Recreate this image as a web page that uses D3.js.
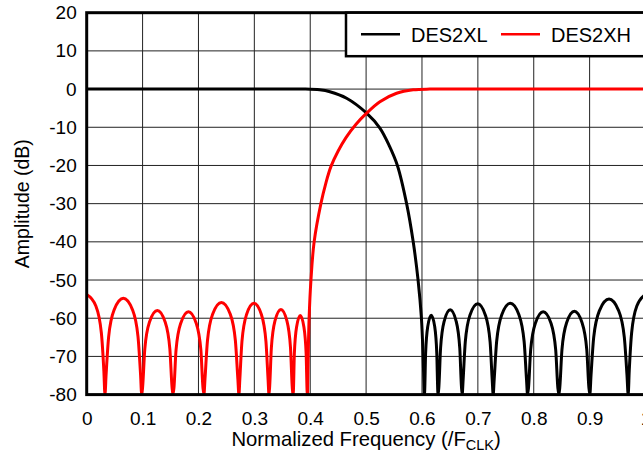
<!DOCTYPE html>
<html>
<head>
<meta charset="utf-8">
<script src="https://cdn.jsdelivr.net/npm/d3@7"></script>
<style>
  body { margin: 0; background: #fff; }
  svg { display: block; font-family: Arial, "Liberation Sans", sans-serif; }
</style>
</head>
<body>
<svg id="chart" width="643" height="454"></svg>
<script>
// values, [normalized frequency, amplitude dB]
const xTicks = [0, 0.1, 0.2, 0.3, 0.4, 0.5, 0.6, 0.7, 0.8, 0.9, 1];
const yTicks = [20, 10, 0, -10, -20, -30, -40, -50, -60, -70, -80];
const seriesNames = ["DES2XL", "DES2XH"];
const seriesColors = ["#000000", "#ff0000"];

// DES2XL (low pass): flat passband, roll off, then stopband lobes
const lowPass = [
  [0, 0], [0.2, 0], [0.37, 0], [0.39, 0], [0.4168, -0.2], [0.4352, -0.7], [0.4651, -2.4],
  [0.5009, -6.3], [0.5247, -10.2], [0.542, -15], [0.556, -20],
  [0.5725, -30], [0.5843, -40], [0.593, -50], [0.599, -60], [0.602, -70], [0.604, -80]
];
const lowStop = [
  [0.604, -80], [0.6048, -79.2], [0.6065, -69.2], [0.6103, -62.2], [0.6165, -59.2], [0.6228, -62.2], [0.6265, -69.2], [0.6283, -79.2], [0.629, -80],
  [0.6303, -77.8], [0.6333, -67.8], [0.6397, -60.8], [0.6505, -57.8], [0.6612, -60.8], [0.6676, -67.8], [0.6706, -77.8], [0.6719, -80],
  [0.6736, -76.2], [0.6775, -66.2], [0.6858, -59.2], [0.6997, -56.2], [0.7135, -59.2], [0.7219, -66.2], [0.7257, -76.2], [0.7274, -80],
  [0.7292, -76.1], [0.7336, -66.1], [0.7428, -59.1], [0.7582, -56.1], [0.7735, -59.1], [0.7828, -66.1], [0.7871, -76.1], [0.7889, -80],
  [0.7906, -78.3], [0.7945, -68.3], [0.8029, -61.3], [0.8169, -58.3], [0.8309, -61.3], [0.8393, -68.3], [0.8432, -78.3], [0.8449, -80],
  [0.8466, -78.2], [0.8505, -68.2], [0.8588, -61.2], [0.8727, -58.2], [0.8865, -61.2], [0.8949, -68.2], [0.8987, -78.2], [0.9004, -80],
  [0.9025, -75], [0.9073, -65], [0.9176, -58], [0.9347, -55], [0.9519, -58], [0.9621, -65], [0.9669, -75], [0.969, -80],
  [0.9709, -73.8], [0.9752, -63.8], [0.9845, -56.8], [1.0, -53.8]
];

// DES2XH (high pass): stopband lobes, steep rise near 0.4, flat passband
const highStop = [
  [0, -53.8], [0.0164, -56.8], [0.0262, -63.8], [0.0307, -73.8], [0.0327, -80],
  [0.0347, -74.8], [0.0393, -64.8], [0.0491, -57.8], [0.0656, -54.8], [0.082, -57.8], [0.0918, -64.8], [0.0964, -74.8], [0.0984, -80],
  [0.1001, -78], [0.104, -68], [0.1124, -61], [0.1264, -58], [0.1404, -61], [0.1488, -68], [0.1527, -78], [0.1544, -80],
  [0.1561, -78.3], [0.1599, -68.3], [0.1683, -61.3], [0.1821, -58.3], [0.196, -61.3], [0.2043, -68.3], [0.2081, -78.3], [0.2098, -80],
  [0.2117, -75.9], [0.2161, -65.9], [0.2255, -58.9], [0.2411, -55.9], [0.2568, -58.9], [0.2661, -65.9], [0.2705, -75.9], [0.2724, -80],
  [0.274, -76.1], [0.2778, -66.1], [0.2859, -59.1], [0.2993, -56.1], [0.3128, -59.1], [0.3208, -66.1], [0.3246, -76.1], [0.3262, -80],
  [0.3275, -77.7], [0.3305, -67.7], [0.3369, -60.7], [0.3476, -57.7], [0.3583, -60.7], [0.3647, -67.7], [0.3677, -77.7], [0.369, -80],
  [0.3698, -79.3], [0.3716, -69.3], [0.3756, -62.3], [0.3822, -59.3], [0.3887, -62.3], [0.3927, -69.3], [0.3945, -79.3], [0.3953, -80]
];
const highPass = [
  [0.3953, -80], [0.3964, -70], [0.398, -60], [0.4013, -50], [0.407, -40],
  [0.4191, -30], [0.428, -24.6], [0.437, -20.3], [0.45, -16.2], [0.464, -12.7],
  [0.482, -9.2], [0.5009, -6.3], [0.5247, -3.3], [0.5546, -1.1], [0.5843, -0.2],
  [0.614, 0], [0.64, 0], [0.8, 0], [1.0, 0]
];

const svg = d3.select("#chart");
const margin = { top: 12.7, left: 86.7 };
const plotW = 558.8;
const plotH = 381.9;

const x = d3.scaleLinear().domain([0, 1]).range([0, plotW]);
const y = d3.scaleLinear().domain([-80, 20]).range([plotH, 0]);

const g = svg.append("g").attr("transform", `translate(${margin.left},${margin.top})`);

svg.append("defs").append("clipPath").attr("id", "plotClip")
  .append("rect").attr("width", plotW).attr("height", plotH);

// grid
g.append("g").selectAll("line.v")
  .data(xTicks.slice(1, -1))
  .join("line")
  .attr("x1", d => x(d)).attr("x2", d => x(d))
  .attr("y1", 0).attr("y2", plotH)
  .attr("stroke", "#222").attr("stroke-width", 1);

g.append("g").selectAll("line.h")
  .data(yTicks.slice(1, -1))
  .join("line")
  .attr("x1", 0).attr("x2", plotW)
  .attr("y1", d => y(d)).attr("y2", d => y(d))
  .attr("stroke", "#222").attr("stroke-width", 1);

// curves: lobes with monotone, roll-off bands with catmull-rom
const lobeLine = d3.line()
  .x(d => x(d[0]))
  .y(d => y(d[1]))
  .curve(d3.curveMonotoneX);
const bandLine = d3.line()
  .x(d => x(d[0]))
  .y(d => y(d[1]))
  .curve(d3.curveCatmullRom.alpha(0.5));

const curves = g.append("g").attr("clip-path", "url(#plotClip)");
const parts = [
  [lowPass, bandLine, 0], [lowStop, lobeLine, 0],
  [highStop, lobeLine, 1], [highPass, bandLine, 1]
];
parts.forEach(([data, gen, i]) => {
  curves.append("path").datum(data)
    .attr("d", gen).attr("fill", "none")
    .attr("stroke", seriesColors[i]).attr("stroke-width", 3)
    .attr("stroke-linejoin", "round");
});

// frame
g.append("rect")
  .attr("width", plotW).attr("height", plotH)
  .attr("fill", "none").attr("stroke", "#000").attr("stroke-width", 3);

// axes
const xAxis = g.append("g")
  .attr("transform", `translate(0,${plotH})`)
  .call(d3.axisBottom(x).tickValues(xTicks).tickSize(0).tickPadding(17).tickFormat(d3.format("~g")));
const yAxis = g.append("g")
  .call(d3.axisLeft(y).tickValues(yTicks).tickSize(0).tickPadding(10).tickFormat(d => String(d)));

[xAxis, yAxis].forEach(a => {
  a.select(".domain").remove();
  a.selectAll("text")
    .attr("font-size", 19)
    .attr("font-family", "Arial, 'Liberation Sans', sans-serif")
    .attr("fill", "#000");
});

// axis titles
const xTitle = svg.append("text")
  .attr("x", margin.left + plotW / 2)
  .attr("y", 446)
  .attr("text-anchor", "middle")
  .attr("font-size", 20.3);
xTitle.append("tspan").text("Normalized Frequency (/F");
xTitle.append("tspan").attr("font-size", 14.5).attr("dy", 4).text("CLK");
xTitle.append("tspan").attr("dy", -4).text(")");

svg.append("text")
  .attr("transform", `translate(29,${margin.top + plotH / 2}) rotate(-90)`)
  .attr("text-anchor", "middle")
  .attr("font-size", 19.5)
  .text("Amplitude (dB)");

// legend
const legend = g.append("g");
legend.append("rect")
  .attr("x", 259.3).attr("y", 0)
  .attr("width", plotW - 259.3).attr("height", 43.5)
  .attr("fill", "#fff").attr("stroke", "#000").attr("stroke-width", 2.5);

const legendX = [274.3, 414.3];
seriesNames.forEach((name, i) => {
  legend.append("line")
    .attr("x1", legendX[i]).attr("x2", legendX[i] + 39)
    .attr("y1", 21.6).attr("y2", 21.6)
    .attr("stroke", seriesColors[i]).attr("stroke-width", 2.5);
  legend.append("text")
    .attr("x", legendX[i] + 50).attr("y", 29.6)
    .attr("font-size", 20)
    .text(name);
});
</script>
</body>
</html>
